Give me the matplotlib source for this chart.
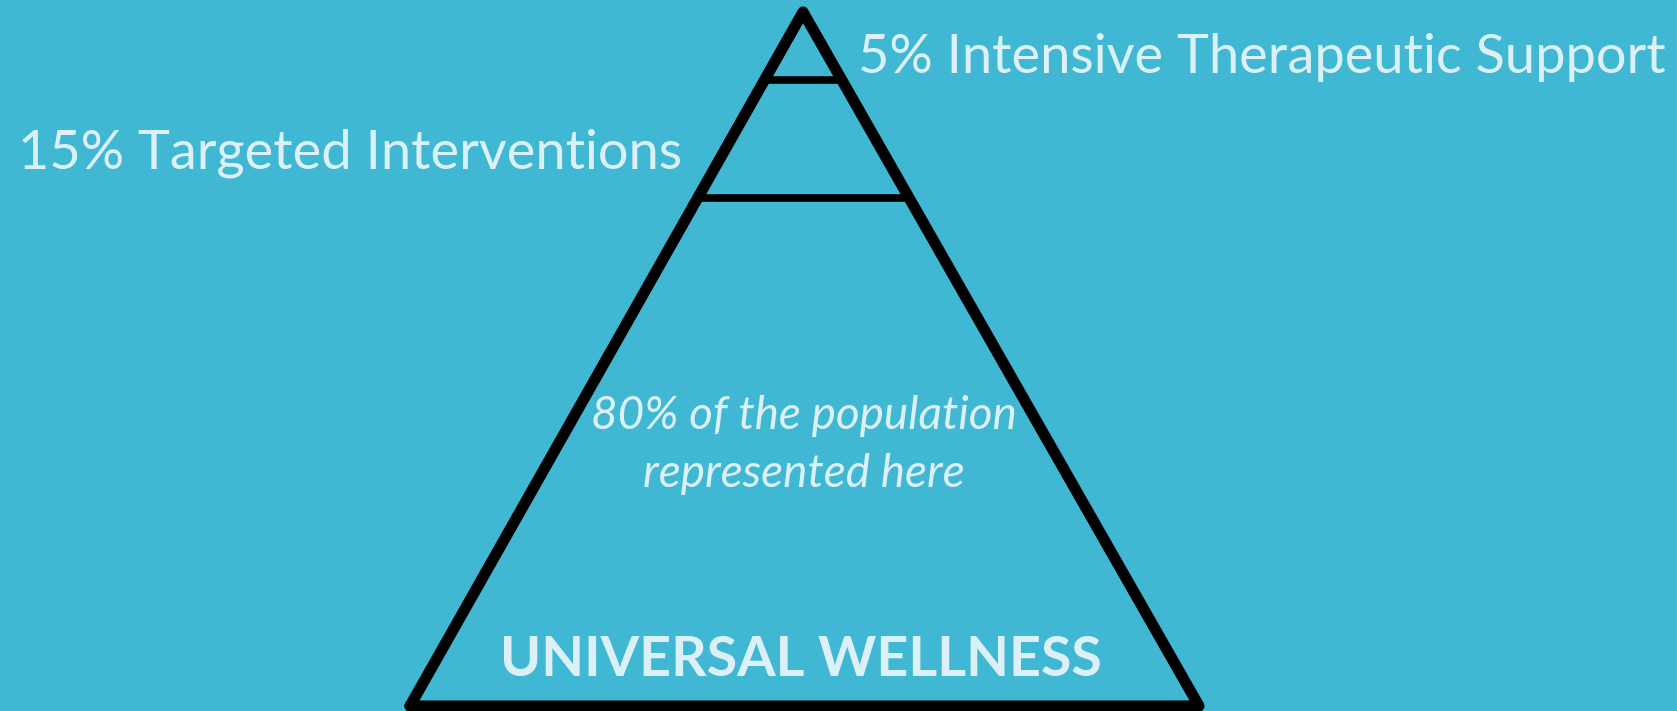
import matplotlib
matplotlib.use("Agg")
from matplotlib import pyplot as plt

# tiers of the pyramid (top to bottom)
tier_pct = [5, 15, 80]
tier_labels = ["5% Intensive Therapeutic Support",
               "15% Targeted Interventions",
               "80% of the population\nrepresented here"]
base_label = "UNIVERSAL WELLNESS"

# pyramid geometry in pixel space (y grows downward)
apex = (803, 12)
base_y = 706
base_left, base_right = 410, 1199
tier_lines_y = [80, 198]

bg = "#41b8d3"
fg = "#dcf1f7"

W, H = 1677, 711
fig = plt.figure(figsize=(W / 100, H / 100), dpi=100)
fig.patch.set_facecolor(bg)
ax = fig.add_axes([0, 0, 1, 1])
ax.set_facecolor(bg)
ax.set_xlim(0, W)
ax.set_ylim(H, 0)
ax.axis("off")


def x_at(y, side):
    frac = (y - apex[1]) / (base_y - apex[1])
    end = base_left if side == "l" else base_right
    return apex[0] + (end - apex[0]) * frac


lw = 8
ax.plot([base_left, apex[0], base_right, base_left], [base_y, apex[1], base_y, base_y],
        color="black", lw=lw, solid_joinstyle="round", solid_capstyle="round")
for y in tier_lines_y:
    ax.plot([x_at(y, "l"), x_at(y, "r")], [y, y], color="black", lw=5.5)

font = "Lato"
ax.text(858, 73, tier_labels[0], fontsize=39, color=fg, family=font,
        ha="left", va="baseline")
ax.text(18, 168, tier_labels[1], fontsize=39, color=fg, family=font,
        ha="left", va="baseline")
ax.text(804, 445, tier_labels[2], fontsize=33, color=fg, family=font,
        style="italic", ha="center", va="center", linespacing=1.45)
ax.text(801, 676, base_label, fontsize=40, color=fg, family=font,
        fontweight="bold", ha="center", va="baseline")

plt.savefig("out.png", dpi=100, facecolor=bg)
